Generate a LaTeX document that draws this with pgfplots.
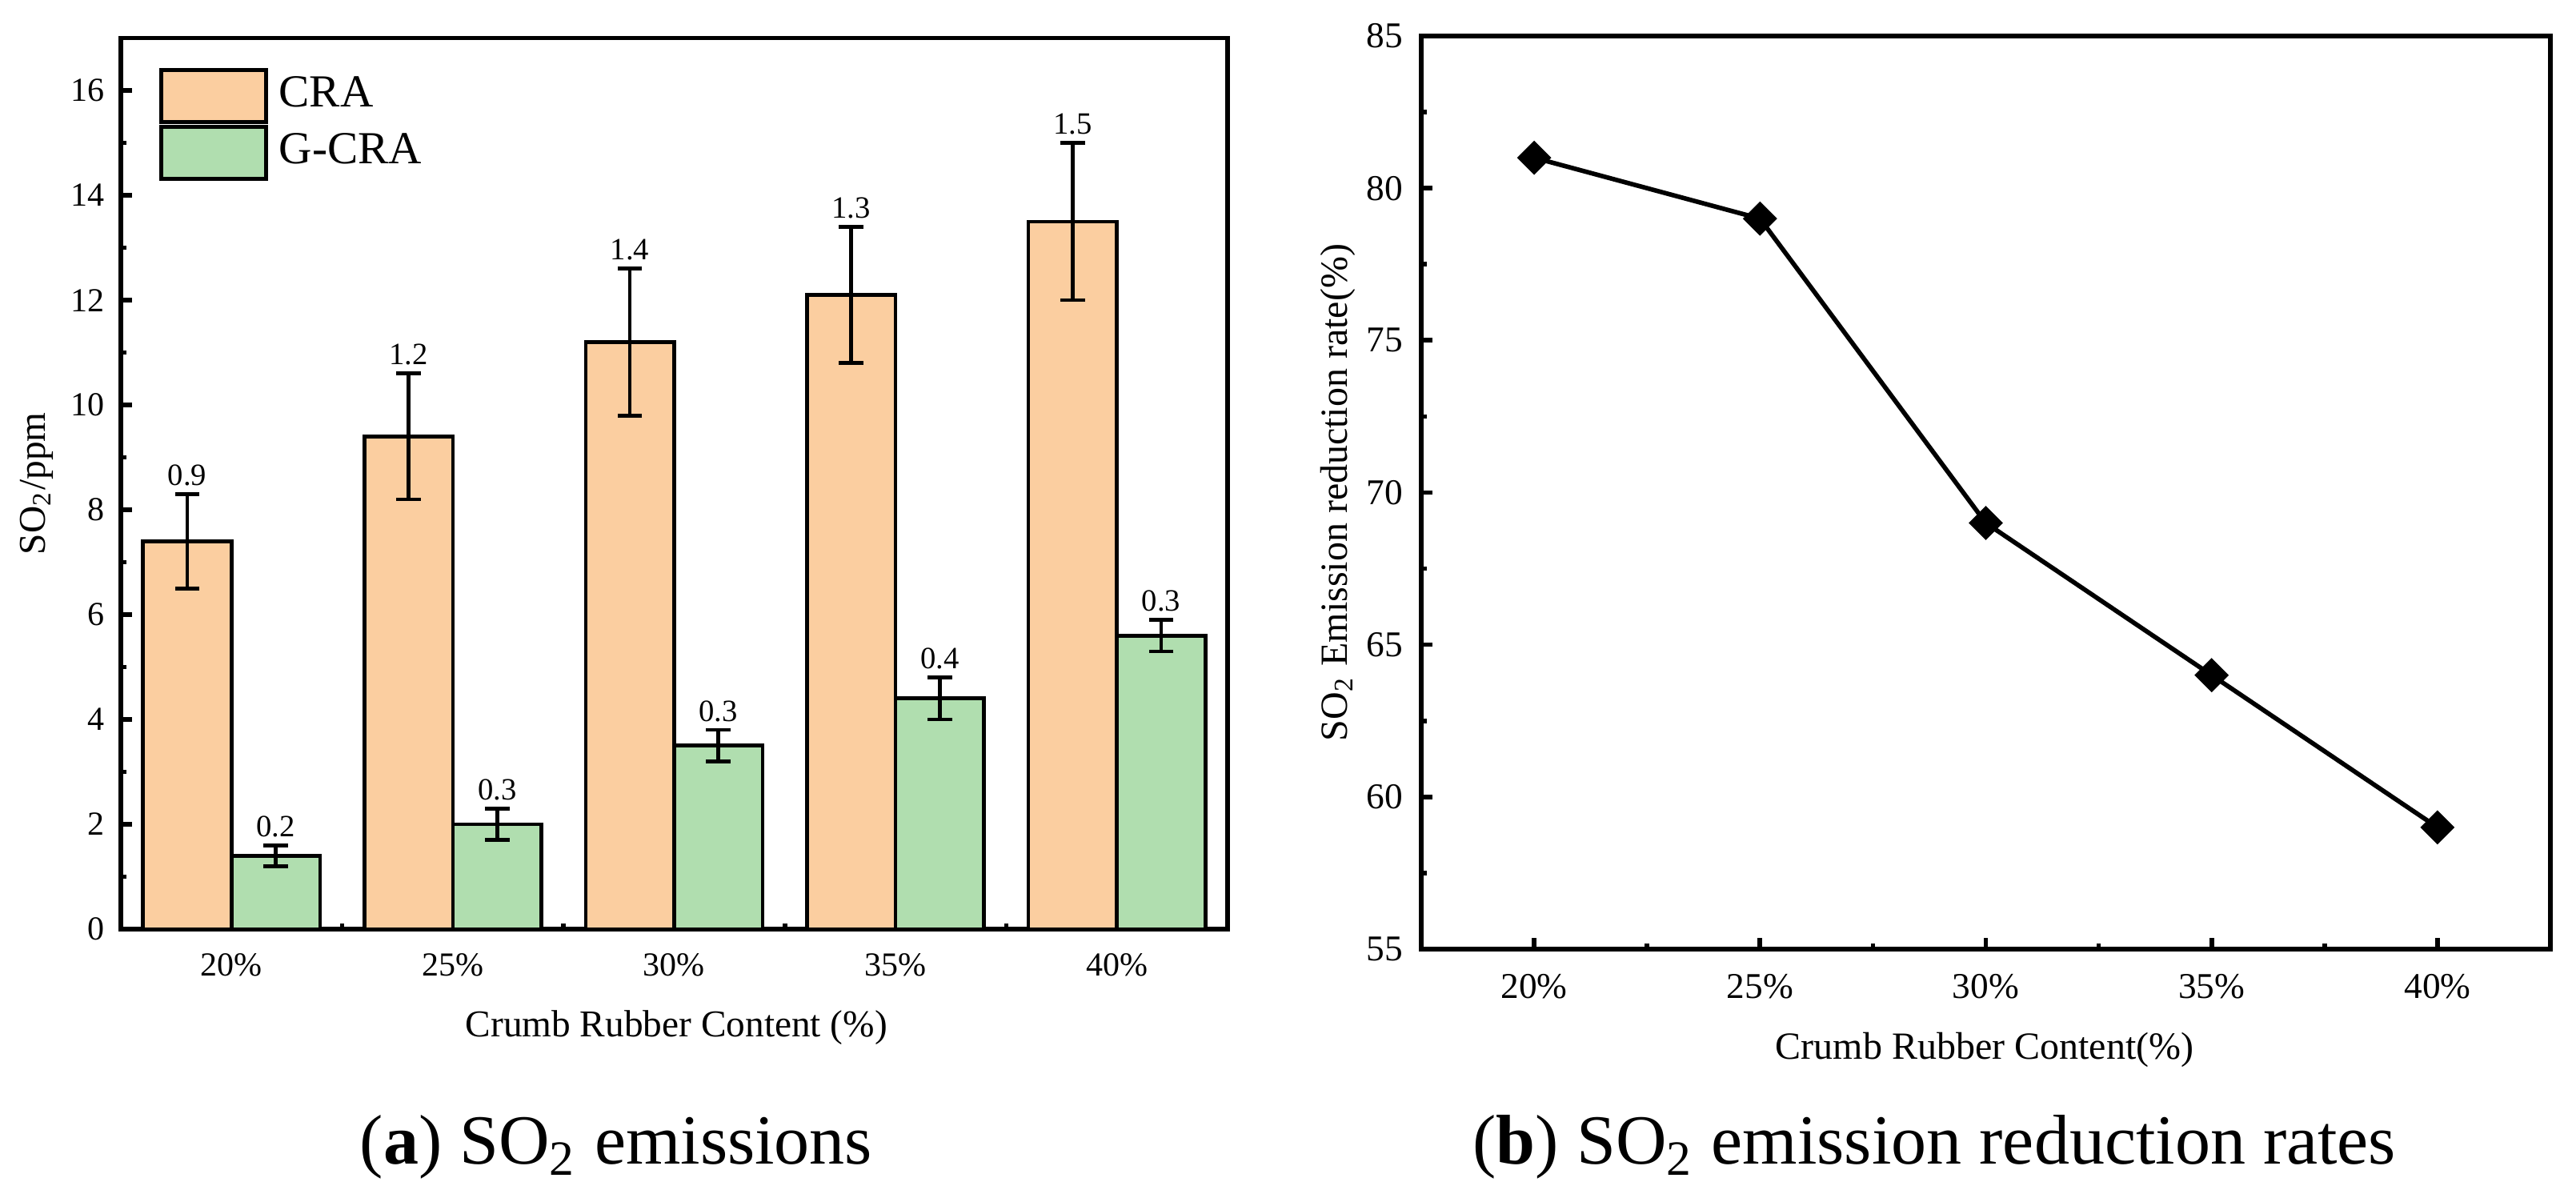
\documentclass[border=0pt]{standalone}
\usepackage{pgfplots}
\pgfplotsset{compat=1.18}
\usepackage{pgfplotstable}
\usepackage{fontspec}
\setmainfont{Liberation Serif}
\definecolor{cra}{RGB}{251,206,160}
\definecolor{gcra}{RGB}{176,222,175}
\pgfplotstableread{
x y err
0 7.4 0.9
1 9.4 1.2
2 11.2 1.4
3 12.1 1.3
4 13.5 1.5
}\cradata
\pgfplotstableread{
x y err
0 1.4 0.2
1 2.0 0.3
2 3.5 0.3
3 4.4 0.4
4 5.6 0.3
}\gcradata
\pgfplotstableread{
x y
0 81
1 79
2 69
3 64
4 59
}\ratedata
\pgfplotsset{
  mystyle/.style={
    scale only axis,
    xmin=-0.5, xmax=4.5,
    xtick={0,1,2,3,4},
    xticklabels={20\%,25\%,30\%,35\%,40\%},
    minor xtick={0.5,1.5,2.5,3.5},
    tick pos=left, tick align=inside,
    major tick length=2.1pt, minor tick length=1.1pt,
    axis line style={line width=0.85pt, black},
    every tick/.append style={line width=0.85pt, black},
    /pgf/number format/assume math mode=true,
    xticklabel style={anchor=base, inner sep=0pt},
    yticklabel style={anchor=east, inner sep=0pt},
  }
}
\begin{document}
\begin{tikzpicture}
\path[use as bounding box] (0,0) rectangle (482.85pt,224.55pt);
\begin{axis}[
  mystyle,
  at={(22.65pt,50.4pt)}, anchor=south west,
  width=207.45pt, height=167.0pt,
  ymin=0, ymax=17,
  ytick={0,2,...,16}, minor ytick={1,3,...,15},
  tick label style={font=\fontsize{6.3}{7}\selectfont},
  xticklabel style={yshift=-8.85pt},
  yticklabel style={xshift=-2.85pt},
  xlabel={Crumb Rubber Content (\%)},
  xlabel style={at={(axis description cs:0.502,-0.1105)}, anchor=center, font=\fontsize{7.1}{8}\selectfont},
  ylabel={SO\textsubscript{2}/ppm},
  ylabel style={at={(axis description cs:-0.0759,0.5)}, anchor=center, font=\fontsize{7.1}{8}\selectfont},
  legend style={draw=none, fill=none, at={(rel axis cs:0,1)}, anchor=north west,
    xshift=7.2pt, yshift=-5.6pt, inner sep=0pt, outer sep=0pt,
    row sep=0.2pt, column sep=2.1pt,
    nodes={inner sep=0pt},
    font=\fontsize{8.6}{10}\selectfont},
  legend cell align=left,
]
\addplot[ybar, bar width=0.4, bar shift=0pt, fill=cra, draw=black, line width=0.7pt,
  legend image code/.code={\draw[fill=cra, draw=black, line width=0.7pt] (0pt,-4.875pt) rectangle (19.65pt,4.875pt);},
  error bars/.cd, y dir=both, y explicit,
  error bar style={line width=0.7pt, black},
  error mark options={rotate=90, mark size=2.3pt, line width=0.7pt, black}]
  table[x expr=\thisrow{x}-0.2, y=y, y error=err] {\cradata};
\addlegendentry{CRA}
\addplot[ybar, bar width=0.4, bar shift=0pt, fill=gcra, draw=black, line width=0.7pt,
  legend image code/.code={\draw[fill=gcra, draw=black, line width=0.7pt] (0pt,-4.875pt) rectangle (19.65pt,4.875pt);},
  error bars/.cd, y dir=both, y explicit,
  error bar style={line width=0.7pt, black},
  error mark options={rotate=90, mark size=2.3pt, line width=0.7pt, black}]
  table[x expr=\thisrow{x}+0.2, y=y, y error=err] {\gcradata};
\addlegendentry{G-CRA}
\addplot[forget plot, draw=none, mark=none, nodes near coords, point meta=explicit symbolic,
  every node near coord/.append style={anchor=south, inner sep=0pt, yshift=1.35pt, font=\fontsize{5.8}{6}\selectfont, text=black}]
  table[x expr=\thisrow{x}-0.2, y expr=\thisrow{y}+\thisrow{err}, meta=err] {\cradata};
\addplot[forget plot, draw=none, mark=none, nodes near coords, point meta=explicit symbolic,
  every node near coord/.append style={anchor=south, inner sep=0pt, yshift=1.35pt, font=\fontsize{5.8}{6}\selectfont, text=black}]
  table[x expr=\thisrow{x}+0.2, y expr=\thisrow{y}+\thisrow{err}, meta=err] {\gcradata};
\end{axis}
\begin{axis}[
  mystyle,
  at={(266.4pt,46.65pt)}, anchor=south west,
  width=211.65pt, height=171.15pt,
  ymin=55, ymax=85,
  ytick={55,60,...,85}, minor ytick={57.5,62.5,...,82.5},
  tick label style={font=\fontsize{6.8}{8}\selectfont},
  xticklabel style={yshift=-9.2pt},
  yticklabel style={xshift=-3.3pt},
  xlabel={Crumb Rubber Content(\%)},
  xlabel style={at={(axis description cs:0.499,-0.1104)}, anchor=center, font=\fontsize{7.2}{8}\selectfont},
  ylabel={SO\textsubscript{2} Emission reduction rate(\%)},
  ylabel style={at={(axis description cs:-0.0737,0.5)}, anchor=center, font=\fontsize{7.2}{8}\selectfont},
]
\addplot[black, line width=0.85pt, mark=square*, mark size=1.85pt,
  mark options={rotate=45, solid, fill=black}] table[x=x, y=y] {\ratedata};
\end{axis}
\node[anchor=base, font=\fontsize{13.2}{15}\selectfont] at (115.5pt,6.3pt) {(\textbf{a}) SO\textsubscript{2} emissions};
\node[anchor=base, font=\fontsize{13.2}{15}\selectfont] at (362.6pt,6.3pt) {(\textbf{b}) SO\textsubscript{2} emission reduction rates};
\end{tikzpicture}
\end{document}
